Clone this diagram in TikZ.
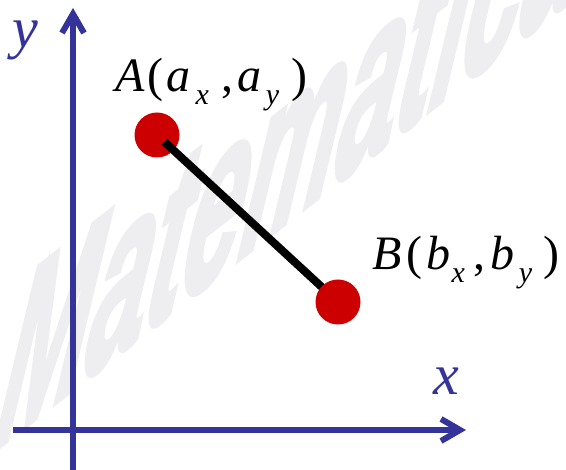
\documentclass[tikz,border=0pt]{standalone}
\usepackage{fontspec}
\setmainfont{Liberation Serif}
\newfontface\marcafont{Liberation Sans Bold Italic}[FakeBold=3]
\usetikzlibrary{arrows.meta, positioning, calc}
\usepackage{xcolor}
\definecolor{ejeblue}{RGB}{51, 51, 153}
\definecolor{puntored}{RGB}{204, 0, 0}
\definecolor{marcagray}{RGB}{238, 237, 240}
\newcommand{\lowsub}[1]{\raisebox{-13pt}{\fontsize{30}{32}\selectfont\itshape #1}}

\begin{document}
\begin{tikzpicture}[
    x=1pt, y=-1pt,
    axis/.style={
        draw=ejeblue,
        line width=6pt,
        -{Straight Barb[length=19pt, width=22pt]}
    },
    axislabel/.style={
        text=ejeblue,
        inner sep=0pt,
        font=\fontsize{58}{60}\selectfont\itshape
    },
    dot/.style={
        circle,
        fill=puntored,
        inner sep=0pt,
        minimum size=45pt
    },
    segment/.style={draw=black, line width=8pt, shorten <=10pt},
    pointlabel/.style={
        anchor=base west,
        inner sep=0pt,
        font=\fontsize{48}{50}\selectfont
    },
    marca/.style={
        text=marcagray,
        anchor=base west,
        inner sep=0pt,
        font=\marcafont\fontsize{170}{170}\selectfont
    }
]
    \useasboundingbox (0,0) rectangle (566,470);

    % Marca de agua
    \begin{scope}
        \clip (0,0) rectangle (566,470);
        \node[marca, rotate=38, xslant=1.1, xscale=0.8] (mark) at (-8,452) {Matematica};
    \end{scope}

    % Ejes
    \coordinate (ybot) at (73,470);
    \coordinate (ytop) at (73,8);
    \coordinate (xleft) at (13,430);
    \coordinate (xright) at (466,430);
    \draw[axis] (ybot) -- (ytop);
    \draw[axis] (xleft) -- (xright);
    \node[axislabel] (ylab) at (25,40) {y};
    \node[axislabel] (xlab) at (446,381) {x};

    % Puntos
    \coordinate (pB) at (338,302);
    \node[dot] (A) at (157,135) {};
    \path[segment] (A.center) -- (pB);
    \node[dot] (B) at (pB) {};

    % Etiquetas
    \node[pointlabel] (Alab) at (115,92)
        {\textit{A}\kern3pt(\kern3pt\textit{a}\kern5pt\lowsub{x}\kern13pt,\kern4pt\textit{a}\kern4pt\lowsub{y}\kern12pt)};
    \node[pointlabel] (Blab) at (372,270)
        {\textit{B}\kern5pt(\kern4pt\textit{b}\kern1pt\lowsub{x}\kern9pt,\kern5pt\textit{b}\kern4pt\lowsub{y}\kern11pt)};

\end{tikzpicture}
\end{document}
